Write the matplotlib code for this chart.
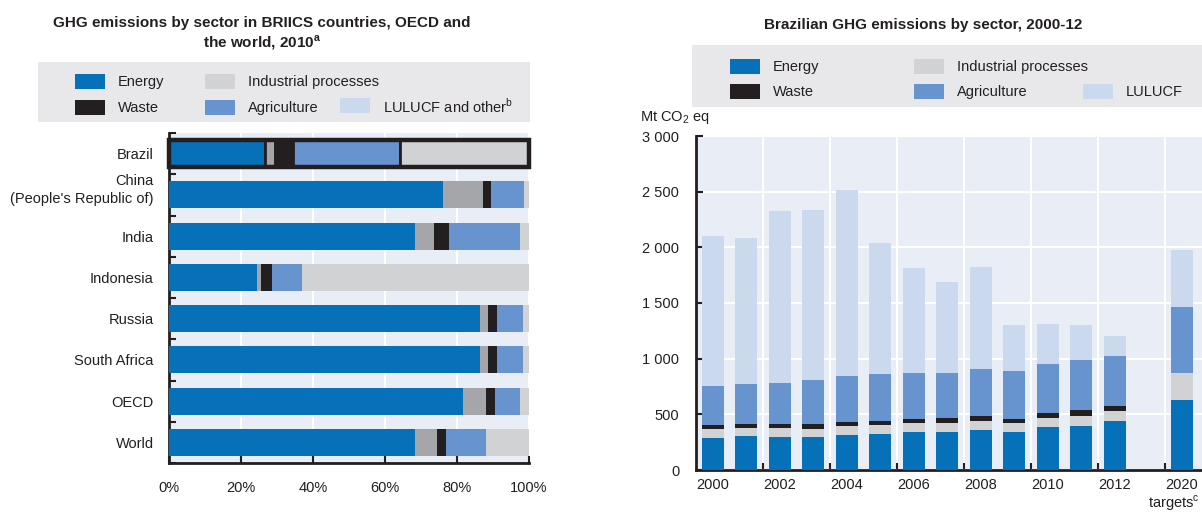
import matplotlib
matplotlib.use("Agg")
import matplotlib.pyplot as plt
from matplotlib.patches import Rectangle
from matplotlib.transforms import ScaledTranslation
import numpy as np

plt.rcParams['font.family'] = ['Liberation Sans', 'DejaVu Sans']
plt.rcParams['mathtext.fontset'] = 'custom'
plt.rcParams['mathtext.rm'] = 'Liberation Sans'
plt.rcParams['mathtext.bf'] = 'Liberation Sans:bold'

# ---------------- data: left panel (shares, %) ----------------
countries = ["Brazil", "China\n(People's Republic of)", "India", "Indonesia",
             "Russia", "South Africa", "OECD", "World"]
share_energy = [26.7, 76.2, 68.4, 24.4, 86.3, 86.3, 81.7, 68.4]
share_industrial = [2.7, 11.0, 5.1, 1.2, 2.3, 2.3, 6.4, 6.0]
share_waste = [5.0, 2.2, 4.3, 2.9, 2.6, 2.6, 2.4, 2.6]
share_agriculture = [29.8, 9.2, 19.6, 8.4, 7.0, 7.0, 7.1, 11.1]
share_lulucf = [35.8, 1.4, 2.6, 63.1, 1.8, 1.8, 2.4, 11.9]
pct_ticks = [0, 20, 40, 60, 80, 100]
pct_labels = ["0%", "20%", "40%", "60%", "80%", "100%"]

# ---------------- data: right panel (Mt CO2 eq) ----------------
year_labels = ["2000", "2001", "2002", "2003", "2004", "2005", "2006",
               "2007", "2008", "2009", "2010", "2011", "2012", "2020"]
target_note = "targets$^{\\mathrm{c}}$"
year_pos = [0, 1, 2, 3, 4, 5, 6, 7, 8, 9, 10, 11, 12, 14]
br_energy = [290, 302, 299, 299, 314, 323, 341, 341, 362, 344, 386, 398, 440, 628]
br_industrial = [75, 72, 75, 72, 78, 78, 78, 78, 81, 75, 81, 90, 86, 239]
br_waste = [42, 39, 42, 42, 39, 39, 39, 48, 45, 42, 44, 47, 48, 0]
br_agriculture = [344, 359, 368, 392, 412, 418, 415, 406, 418, 427, 437, 455, 449, 593]
br_lulucf = [1349, 1310, 1540, 1534, 1669, 1185, 942, 817, 918, 413, 359, 311, 179, 520]
y_ticks = [0, 500, 1000, 1500, 2000, 2500, 3000]
y_labels = ["0", "500", "1 000", "1 500", "2 000", "2 500", "3 000"]

C_ENERGY = "#0670b8"
C_IND_DARK = "#a5a6a9"
C_IND = "#d1d2d4"
C_WASTE = "#231f20"
C_AGRI = "#6794ce"
C_LULUCF = "#cbd9ef"
C_BG = "#e8edf6"
C_LEG = "#e8e8eb"
TXT = "#231f20"

W, H = 1202, 512
fig = plt.figure(figsize=(W / 100, H / 100), dpi=100)


def fx(px):
    return px / W


def fy(py):
    return 1 - py / H


FS = 10.5

# ================= left panel =================
axL = fig.add_axes([fx(169), fy(463), fx(360), (463 - 133) / H])
axL.set_facecolor(C_BG)
ypos = np.arange(len(countries))
segs = [(share_energy, C_ENERGY), (share_industrial, C_IND_DARK), (share_waste, C_WASTE),
        (share_agriculture, C_AGRI), (share_lulucf, C_IND)]
left = np.zeros(len(countries))
for vals, col in segs:
    vals = np.array(vals)
    axL.barh(ypos[1:], vals[1:], left=left[1:], height=0.66, color=col, zorder=3)
    axL.barh(ypos[:1], vals[:1], left=left[:1], height=0.66, color=col, zorder=3,
             edgecolor=C_WASTE, linewidth=2.0)
    left += vals
# thick frame around the highlighted Brazil bar
axL.barh([0], [100], left=[0], height=0.66, facecolor='none', edgecolor=C_WASTE,
         linewidth=3.2, zorder=4, clip_on=False)
axL.set_xlim(0, 100)
axL.set_ylim(7.5, -0.5)
axL.set_yticks(ypos)
axL.set_yticklabels(countries, fontsize=FS, color=TXT, linespacing=1.3)
axL.set_yticks(np.arange(-0.5, 8, 1.0), minor=True)
axL.tick_params(axis='y', which='major', length=0, pad=11)
axL.tick_params(axis='y', which='minor', direction='in', length=5, width=1.5, color=TXT)
axL.set_xticks(pct_ticks)
axL.set_xticklabels(pct_labels, fontsize=FS, color=TXT)
axL.tick_params(axis='x', direction='in', length=5, width=1.5, color=TXT, pad=13)
axL.grid(axis='x', color='white', linewidth=1.5, zorder=1)
for s in ['top', 'right']:
    axL.spines[s].set_visible(False)
for s in ['left', 'bottom']:
    axL.spines[s].set_color(TXT)
    axL.spines[s].set_linewidth(2)
# the two-line China label sits a little higher in the reference
china_lab = axL.get_yticklabels()[1]
china_lab.set_transform(china_lab.get_transform() + ScaledTranslation(0, 0.08, fig.dpi_scale_trans))

fig.text(fx(262), fy(34),
         "GHG emissions by sector in BRIICS countries, OECD and\nthe world, 2010$^{\\mathbf{a}}$",
         ha='center', va='center', fontsize=11, fontweight='bold', color=TXT,
         linespacing=1.2)

# legend left
fig.patches.append(Rectangle((fx(38), fy(122)), fx(530 - 38), (122 - 62) / H,
                             transform=fig.transFigure, facecolor=C_LEG, edgecolor='none'))
legL = [(75, 74, C_ENERGY, "Energy"), (75, 100, C_WASTE, "Waste"),
        (205, 74, C_IND, "Industrial processes"), (205, 100, C_AGRI, "Agriculture"),
        (340, 98, C_LULUCF, "LULUCF and other$^{\\mathrm{b}}$")]
for x0, y0, col, lab in legL:
    fig.patches.append(Rectangle((fx(x0), fy(y0 + 15)), fx(30), 15 / H,
                                 transform=fig.transFigure, facecolor=col, edgecolor='none'))
    fig.text(fx(x0 + 43), fy(y0 + 8), lab, ha='left', va='center', fontsize=FS, color=TXT)

# ================= right panel =================
axR = fig.add_axes([fx(696), fy(470), fx(W - 696), (470 - 136) / H])
axR.set_facecolor(C_BG)
bottom = np.zeros(len(year_pos))
for vals, col in [(br_energy, C_ENERGY), (br_industrial, C_IND), (br_waste, C_WASTE),
                  (br_agriculture, C_AGRI), (br_lulucf, C_LULUCF)]:
    vals = np.array(vals, dtype=float)
    axR.bar(year_pos, vals, bottom=bottom, width=0.65, color=col, zorder=3)
    bottom += vals
axR.set_xlim(-0.5, 14.6)
axR.set_ylim(0, 3000)
axR.set_yticks(y_ticks)
axR.set_yticklabels(y_labels, fontsize=FS, color=TXT)
axR.tick_params(axis='y', direction='in', length=5, width=1.5, color=TXT, pad=12)
major_pos = [0, 2, 4, 6, 8, 10, 12, 14]
axR.set_xticks(major_pos)
axR.set_xticklabels([year_labels[year_pos.index(p)] for p in major_pos], fontsize=FS,
                    color=TXT)
axR.set_xticks(np.arange(1.5, 14, 2.0), minor=True)
axR.tick_params(axis='x', which='major', length=0, pad=6)
axR.tick_params(axis='x', which='minor', direction='in', length=5, width=1.5, color=TXT)
axR.grid(axis='y', color='white', linewidth=1.5, zorder=1)
axR.grid(axis='x', which='minor', color='white', linewidth=1.5, zorder=1)
for s in ['top', 'right']:
    axR.spines[s].set_visible(False)
for s in ['left', 'bottom']:
    axR.spines[s].set_color(TXT)
    axR.spines[s].set_linewidth(2)

fig.text(fx(1200), fy(503), target_note, ha='right', va='center', fontsize=FS, color=TXT)
fig.text(fx(640), fy(117), "Mt CO$_2$ eq", ha='left', va='center', fontsize=FS, color=TXT)
fig.text(fx(923), fy(25), "Brazilian GHG emissions by sector, 2000-12",
         ha='center', va='center', fontsize=11, fontweight='bold', color=TXT)

fig.patches.append(Rectangle((fx(692), fy(107)), fx(W - 692), (107 - 45) / H,
                             transform=fig.transFigure, facecolor=C_LEG, edgecolor='none'))
legR = [(730, 59, C_ENERGY, "Energy"), (730, 84, C_WASTE, "Waste"),
        (914, 59, C_IND, "Industrial processes"), (914, 84, C_AGRI, "Agriculture"),
        (1083, 84, C_LULUCF, "LULUCF")]
for x0, y0, col, lab in legR:
    fig.patches.append(Rectangle((fx(x0), fy(y0 + 15)), fx(30), 15 / H,
                                 transform=fig.transFigure, facecolor=col, edgecolor='none'))
    fig.text(fx(x0 + 43), fy(y0 + 8), lab, ha='left', va='center', fontsize=FS, color=TXT)

fig.savefig("out.png", dpi=100)
